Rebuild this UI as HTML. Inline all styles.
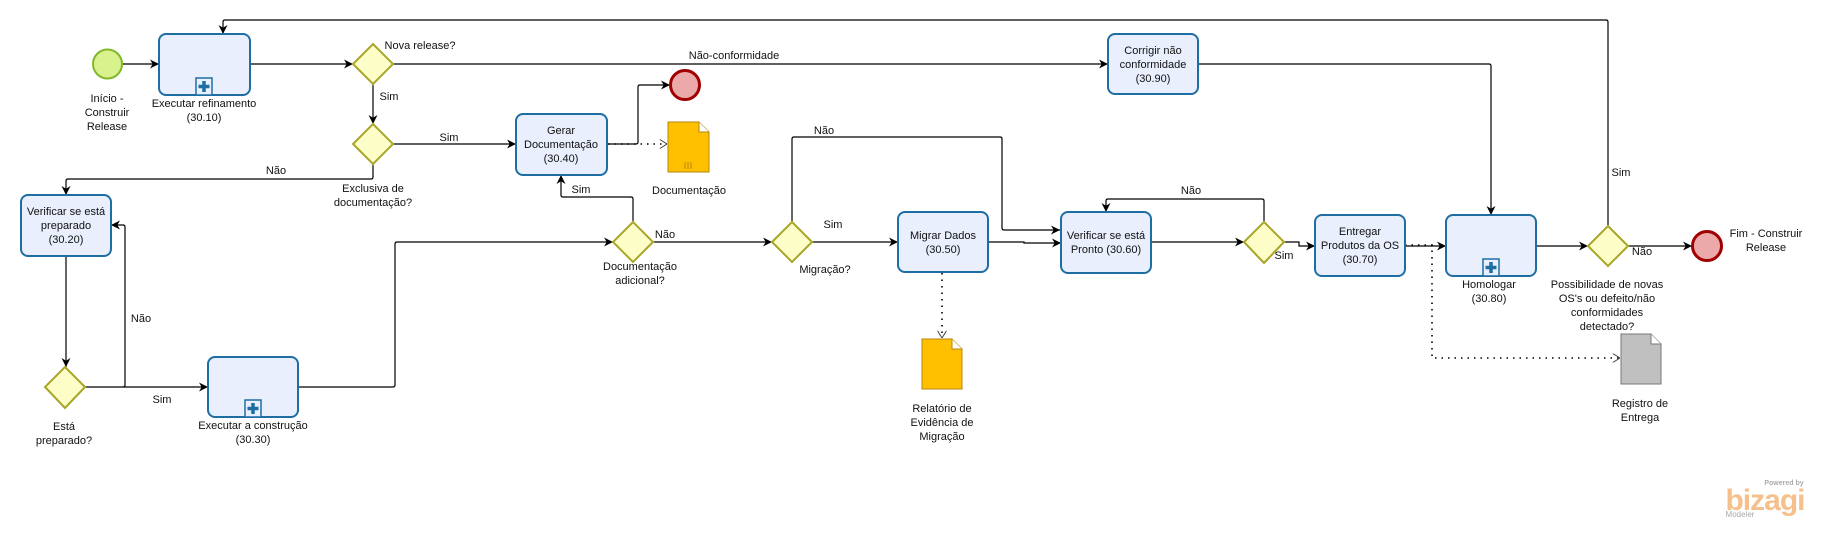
<!DOCTYPE html>
<html><head><meta charset="utf-8"><style>
html,body{margin:0;padding:0;background:#fff;}
svg{display:block;}
text{font-family:"Liberation Sans",sans-serif;font-size:11px;fill:#111;text-anchor:middle;}
.b{fill:#e9effc;stroke:#1f6ea3;stroke-width:2;}
.g{fill:#fdfdc8;stroke:#a8a628;stroke-width:2;}
.l{fill:none;stroke:#000;stroke-width:1.2;}
.d{fill:none;stroke:#000;stroke-width:1.6;stroke-dasharray:1.5 5;}
</style></head><body>
<svg width="1832" height="550" viewBox="0 0 1832 550" xmlns="http://www.w3.org/2000/svg">
<defs>
<marker id="a" viewBox="0 0 10 10" refX="10" refY="5" markerWidth="9" markerHeight="9" orient="auto" markerUnits="userSpaceOnUse"><path d="M0,0 L10,5 L0,10 L3,5 z" fill="#000"/></marker>
<marker id="o" viewBox="0 0 10 10" refX="10" refY="5" markerWidth="9" markerHeight="9" orient="auto" markerUnits="userSpaceOnUse"><path d="M2,0 L10,5 L2,10" fill="none" stroke="#333" stroke-width="1"/></marker>
</defs>

<!-- connectors -->
<path class="l" d="M1608,226 V22 Q1608,20 1606,20 H225 Q223,20 223,22 V34" marker-end="url(#a)"/>
<path class="l" d="M122,64 H159" marker-end="url(#a)"/>
<path class="l" d="M250,64 H353" marker-end="url(#a)"/>
<path class="l" d="M393,64 H1108" marker-end="url(#a)"/>
<path class="l" d="M373,84 V124" marker-end="url(#a)"/>
<path class="l" d="M393,144 H516" marker-end="url(#a)"/>
<path class="l" d="M373,164 V177 Q373,179 371,179 H68 Q66,179 66,181 V195" marker-end="url(#a)"/>
<path class="l" d="M607,144 H636 Q638,144 638,142 V87 Q638,85 640,85 H670" marker-end="url(#a)"/>
<path class="d" d="M608,144 H667" marker-end="url(#o)"/>
<path class="l" d="M66,256 V367" marker-end="url(#a)"/>
<path class="l" d="M85,387 H208" marker-end="url(#a)"/>
<path class="l" d="M123,387 Q125,387 125,385 V227 Q125,225 123,225 H111" marker-end="url(#a)"/>
<path class="l" d="M298,387 H393 Q395,387 395,385 V244 Q395,242 397,242 H613" marker-end="url(#a)"/>
<path class="l" d="M633,222 V199 Q633,197 631,197 H563 Q561,197 561,195 V175" marker-end="url(#a)"/>
<path class="l" d="M653,242 H772" marker-end="url(#a)"/>
<path class="l" d="M812,242 H898" marker-end="url(#a)"/>
<path class="l" d="M792,222 V139 Q792,137 794,137 H1000 Q1002,137 1002,139 V228 Q1002,230 1004,230 H1060" marker-end="url(#a)"/>
<path class="l" d="M988,242 H1024 V243 H1061" marker-end="url(#a)"/>
<path class="d" d="M942,273 V338" marker-end="url(#o)"/>
<path class="l" d="M1151,242 H1244" marker-end="url(#a)"/>
<path class="l" d="M1264,222 V201 Q1264,199 1262,199 H1108 Q1106,199 1106,201 V212" marker-end="url(#a)"/>
<path class="l" d="M1284,242 H1299 V246 H1315" marker-end="url(#a)"/>
<path class="l" d="M1198,64 H1489 Q1491,64 1491,66 V215" marker-end="url(#a)"/>
<path class="l" d="M1405,246 H1446" marker-end="url(#a)"/>
<path class="d" d="M1405,245 H1432 V358 H1620" marker-end="url(#o)"/>
<path class="l" d="M1536,246 H1588" marker-end="url(#a)"/>
<path class="l" d="M1628,246 H1692" marker-end="url(#a)"/>

<!-- events -->
<circle cx="107.5" cy="64" r="14.5" fill="#d9f28e" stroke="#80b82c" stroke-width="2"/>
<circle cx="685" cy="85" r="14.5" fill="#eba9a9" stroke="#a00000" stroke-width="3"/>
<circle cx="1707" cy="246" r="14.5" fill="#eba9a9" stroke="#a00000" stroke-width="3"/>

<!-- tasks -->
<rect class="b" x="159" y="34" width="91" height="61" rx="7"/>
<rect x="196" y="78" width="16" height="17" fill="#e9effc" stroke="#1f6ea3" stroke-width="1.5"/>
<path d="M204,81 V92 M198.5,86.5 H209.5" stroke="#1f6ea3" stroke-width="3.5"/>
<rect class="b" x="516" y="114" width="91" height="61" rx="7"/>
<rect class="b" x="21" y="195" width="90" height="61" rx="7"/>
<rect class="b" x="208" y="357" width="90" height="60" rx="7"/>
<rect x="245" y="400" width="16" height="17" fill="#e9effc" stroke="#1f6ea3" stroke-width="1.5"/>
<path d="M253,403 V414 M247.5,408.5 H258.5" stroke="#1f6ea3" stroke-width="3.5"/>
<rect class="b" x="1108" y="34" width="90" height="60" rx="7"/>
<rect class="b" x="898" y="212" width="90" height="60" rx="7"/>
<rect class="b" x="1061" y="212" width="90" height="61" rx="7"/>
<rect class="b" x="1315" y="215" width="90" height="61" rx="7"/>
<rect class="b" x="1446" y="215" width="90" height="61" rx="7"/>
<rect x="1483" y="259" width="16" height="17" fill="#e9effc" stroke="#1f6ea3" stroke-width="1.5"/>
<path d="M1491,262 V273 M1485.5,267.5 H1496.5" stroke="#1f6ea3" stroke-width="3.5"/>

<!-- gateways -->
<path class="g" d="M373,44 L393,64 L373,84 L353,64 z"/>
<path class="g" d="M373,124 L393,144 L373,164 L353,144 z"/>
<path class="g" d="M65,367 L85,387 L65,408 L45,387 z"/>
<path class="g" d="M633,222 L653,242 L633,262 L613,242 z"/>
<path class="g" d="M792,222 L812,242 L792,262 L772,242 z"/>
<path class="g" d="M1264,222 L1284,242 L1264,263 L1244,242 z"/>
<path class="g" d="M1608,226 L1628,246 L1608,266 L1588,246 z"/>

<!-- data objects -->
<path d="M668,122 H699 L709,132 V172 H668 z" fill="#ffc000" stroke="#b8860b" stroke-width="1"/>
<path d="M699,122 V132 H709" fill="#fff" stroke="#b8860b" stroke-width="1"/>
<path d="M685,162 V169 M688,162 V169 M691,162 V169" stroke="#b8860b" stroke-width="1"/>
<path d="M922,339 H952 L962,349 V389 H922 z" fill="#ffc000" stroke="#b8860b" stroke-width="1"/>
<path d="M952,339 V349 H962" fill="#fff" stroke="#b8860b" stroke-width="1"/>
<path d="M1621,334 H1651 L1661,344 V384 H1621 z" fill="#c0c0c0" stroke="#777" stroke-width="1"/>
<path d="M1651,334 V344 H1661" fill="#fff" stroke="#777" stroke-width="1"/>

<!-- labels -->
<text x="107" y="102">Início -</text><text x="107" y="116">Construir</text><text x="107" y="130">Release</text>
<text x="204" y="107">Executar refinamento</text><text x="204" y="121">(30.10)</text>
<text x="420" y="49">Nova release?</text>
<text x="389" y="100">Sim</text>
<text x="449" y="141">Sim</text>
<text x="276" y="174">Não</text>
<text x="373" y="192">Exclusiva de</text><text x="373" y="206">documentação?</text>
<text x="561" y="134">Gerar</text><text x="561" y="148">Documentação</text><text x="561" y="162">(30.40)</text>
<text x="66" y="215">Verificar se está</text><text x="66" y="229">preparado</text><text x="66" y="243">(30.20)</text>
<text x="141" y="322">Não</text>
<text x="162" y="403">Sim</text>
<text x="64" y="430">Está</text><text x="64" y="444">preparado?</text>
<text x="253" y="429">Executar a construção</text><text x="253" y="443">(30.30)</text>
<text x="581" y="193">Sim</text>
<text x="734" y="59">Não-conformidade</text>
<text x="689" y="194">Documentação</text>
<text x="640" y="270">Documentação</text><text x="640" y="284">adicional?</text>
<text x="665" y="238">Não</text>
<text x="825" y="273">Migração?</text>
<text x="833" y="228">Sim</text>
<text x="824" y="134">Não</text>
<text x="943" y="239">Migrar Dados</text><text x="943" y="253">(30.50)</text>
<text x="1106" y="239">Verificar se está</text><text x="1106" y="253">Pronto (30.60)</text>
<text x="1191" y="194">Não</text>
<text x="942" y="412">Relatório de</text><text x="942" y="426">Evidência de</text><text x="942" y="440">Migração</text>
<text x="1153" y="54">Corrigir não</text><text x="1153" y="68">conformidade</text><text x="1153" y="82">(30.90)</text>
<text x="1284" y="259">Sim</text>
<text x="1360" y="235">Entregar</text><text x="1360" y="249">Produtos da OS</text><text x="1360" y="263">(30.70)</text>
<text x="1489" y="288">Homologar</text><text x="1489" y="302">(30.80)</text>
<text x="1621" y="176">Sim</text>
<text x="1642" y="255">Não</text>
<text x="1766" y="237">Fim - Construir</text><text x="1766" y="251">Release</text>
<text x="1607" y="288">Possibilidade de novas</text><text x="1607" y="302">OS's ou defeito/não</text><text x="1607" y="316">conformidades</text><text x="1607" y="330">detectado?</text>
<text x="1640" y="407">Registro de</text><text x="1640" y="421">Entrega</text>

<!-- bizagi logo -->
<text x="1784" y="485" style="font-size:7px;fill:#aaa;font-weight:bold">Powered by</text>
<text x="1765" y="510" style="font-size:30px;fill:#f6c08c;font-weight:bold;letter-spacing:-1px">bizagi</text>
<text x="1740" y="517" style="font-size:8px;fill:#aaa">Modeler</text>
</svg>
</body></html>
